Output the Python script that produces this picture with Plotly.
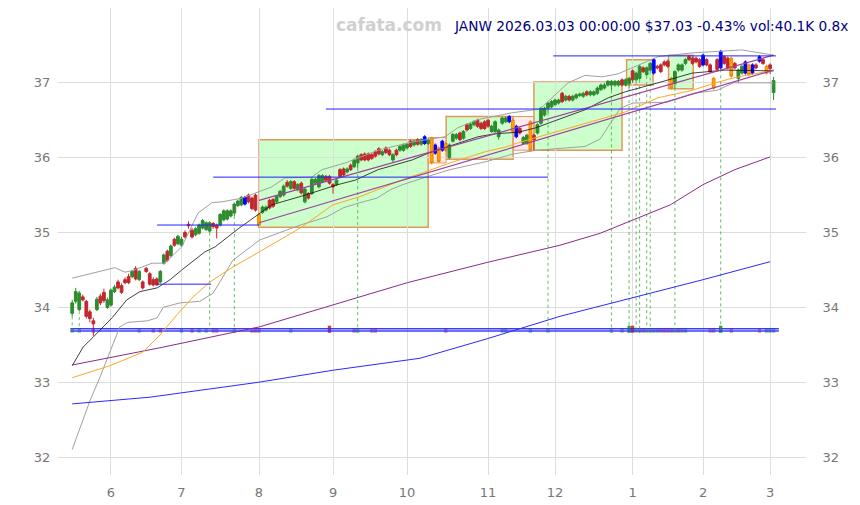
import plotly.graph_objects as go
import pandas as pd

# ---------------- data ----------------
holidays = ['2025-05-26', '2025-06-19', '2025-07-04', '2025-09-01', '2025-11-27',
            '2025-12-25', '2026-01-01', '2026-01-19', '2026-02-16']
dates = [d for d in pd.bdate_range('2025-05-15', '2026-03-03') if d.strftime('%Y-%m-%d') not in holidays]

opens = [33.92,34.08,33.97,34.14,34.08,33.94,33.82,33.97,34.15,34.20,34.00,34.03,34.21,34.34,34.29,34.37,34.41,34.41,34.52,34.37,
         34.34,34.52,34.45,34.37,34.38,34.34,34.59,34.75,34.69,34.91,34.85,34.83,35.00,35.11,35.03,34.97,34.99,35.06,35.04,35.02,
         35.12,35.10,35.10,35.17,35.18,35.22,35.26,35.36,35.37,35.38,35.50,35.46,35.50,35.24,35.27,35.30,35.43,35.44,35.41,35.48,
         35.50,35.67,35.59,35.68,35.57,35.66,35.41,35.52,35.52,35.66,35.61,35.68,35.75,35.75,35.64,35.64,35.84,35.85,35.81,35.90,
         35.88,35.93,36.04,36.05,36.05,36.04,36.08,36.12,36.04,36.13,36.10,35.97,36.10,36.10,36.10,36.13,36.22,36.17,36.24,36.18,
         36.19,36.19,36.26,36.17,36.13,36.10,36.19,36.00,36.22,36.26,36.33,36.26,36.44,36.39,36.44,36.50,36.46,36.48,36.50,36.35,
         36.35,36.28,36.46,36.48,36.48,36.50,36.42,36.39,36.19,36.19,36.48,36.30,36.33,36.46,36.57,36.66,36.68,36.71,36.73,36.86,
         36.77,36.82,36.77,36.80,36.83,36.82,36.88,36.84,36.84,36.86,36.91,36.93,36.97,36.97,36.97,36.97,37.04,36.97,36.99,37.16,
         37.04,37.06,37.20,37.11,37.17,37.13,37.22,37.24,37.28,37.29,37.06,36.99,37.17,37.17,37.26,37.35,37.33,37.33,37.31,37.24,
         37.31,37.24,37.06,37.31,37.20,37.35,37.33,37.33,37.26,37.06,37.13,37.13,37.24,37.13,37.24,37.29,37.31,37.22,37.24,36.87]
highs = [34.10,34.26,34.22,34.17,34.10,33.97,33.86,34.14,34.18,34.25,34.13,34.25,34.30,34.37,34.32,34.40,34.45,34.50,34.55,34.50,
         34.36,34.54,34.47,34.40,34.40,34.50,34.72,34.77,34.84,34.93,34.97,34.94,35.03,35.15,35.06,35.07,35.12,35.18,35.15,35.15,
         35.14,35.12,35.26,35.31,35.31,35.31,35.40,35.44,35.49,35.49,35.52,35.48,35.52,35.26,35.36,35.36,35.45,35.46,35.50,35.57,
         35.64,35.70,35.70,35.70,35.66,35.68,35.60,35.54,35.73,35.73,35.78,35.78,35.77,35.77,35.66,35.72,35.86,35.87,35.87,35.92,
         35.99,36.04,36.06,36.07,36.07,36.06,36.10,36.14,36.10,36.15,36.12,36.06,36.12,36.17,36.19,36.20,36.24,36.24,36.26,36.26,
         36.30,36.26,36.28,36.19,36.15,36.24,36.21,36.19,36.33,36.33,36.35,36.37,36.46,36.47,36.50,36.52,36.48,36.50,36.52,36.44,
         36.50,36.39,36.55,36.55,36.57,36.52,36.44,36.41,36.29,36.32,36.50,36.32,36.46,36.68,36.68,36.75,36.77,36.79,36.79,36.88,
         36.84,36.84,36.84,36.86,36.87,36.88,36.90,36.90,36.90,36.95,36.99,37.00,37.04,37.04,37.04,37.04,37.06,37.06,37.08,37.18,
         37.15,37.24,37.22,37.22,37.28,37.33,37.24,37.26,37.30,37.31,37.08,37.17,37.26,37.26,37.33,37.37,37.35,37.35,37.33,37.39,
         37.33,37.26,37.08,37.33,37.44,37.37,37.35,37.35,37.28,37.19,37.24,37.30,37.26,37.26,37.26,37.37,37.33,37.24,37.26,37.08]
lows = [33.88,34.05,33.95,34.08,33.85,33.80,33.62,33.95,34.03,34.06,33.98,34.01,34.19,34.24,34.18,34.31,34.31,34.39,34.36,34.35,
        34.24,34.46,34.29,34.28,34.29,34.32,34.57,34.61,34.67,34.81,34.83,34.81,34.92,35.05,34.92,34.95,34.97,35.04,35.02,35.00,
        35.05,34.92,35.08,35.15,35.16,35.20,35.22,35.34,35.35,35.36,35.39,35.30,35.28,35.06,35.25,35.28,35.31,35.33,35.39,35.46,
        35.48,35.60,35.57,35.57,35.55,35.51,35.39,35.44,35.50,35.64,35.59,35.66,35.68,35.64,35.52,35.62,35.73,35.75,35.79,35.82,
        35.86,35.86,35.95,35.95,35.95,35.97,36.00,36.03,36.02,36.05,36.02,35.93,36.02,36.08,36.08,36.11,36.13,36.15,36.16,36.16,
        36.17,36.17,35.91,36.04,35.93,36.08,36.08,35.98,36.20,36.24,36.22,36.24,36.35,36.37,36.42,36.40,36.37,36.37,36.40,36.33,
        36.33,36.24,36.44,36.46,36.46,36.33,36.26,36.31,36.17,36.17,36.08,36.10,36.31,36.44,36.55,36.60,36.66,36.69,36.71,36.73,
        36.75,36.75,36.75,36.78,36.81,36.80,36.82,36.82,36.82,36.84,36.89,36.91,36.95,36.90,36.95,36.95,36.95,36.95,36.93,37.00,
        37.02,37.04,37.13,37.09,37.15,37.11,37.18,37.13,37.22,37.20,36.91,36.93,37.15,37.15,37.24,37.29,37.24,37.26,37.20,37.22,
        37.22,37.13,36.91,37.16,37.18,37.24,37.18,37.07,37.18,37.00,37.11,37.11,37.09,37.11,37.18,37.27,37.24,37.11,37.12,36.77]
closes = [34.06,34.21,34.19,34.10,33.88,33.85,33.78,34.11,34.06,34.09,34.10,34.23,34.27,34.26,34.20,34.33,34.33,34.48,34.38,34.48,
          34.26,34.48,34.31,34.30,34.30,34.48,34.70,34.63,34.82,34.83,34.95,34.91,34.94,35.09,34.94,35.05,35.10,35.16,35.13,35.13,
          35.08,35.06,35.24,35.29,35.29,35.29,35.38,35.42,35.47,35.47,35.41,35.32,35.30,35.10,35.34,35.34,35.33,35.35,35.48,35.55,
          35.62,35.62,35.68,35.59,35.64,35.53,35.58,35.46,35.71,35.71,35.76,35.76,35.70,35.66,35.61,35.70,35.75,35.77,35.85,35.84,
          35.97,36.02,35.97,35.97,35.97,35.99,36.02,36.05,36.08,36.07,36.04,36.04,36.04,36.15,36.17,36.18,36.15,36.22,36.18,36.24,
          36.28,36.24,35.93,36.06,35.95,36.22,36.10,36.17,36.31,36.31,36.24,36.35,36.37,36.45,36.48,36.42,36.39,36.39,36.42,36.42,
          36.48,36.37,36.53,36.53,36.55,36.35,36.28,36.33,36.27,36.30,36.10,36.24,36.44,36.66,36.66,36.73,36.75,36.77,36.77,36.75,
          36.82,36.77,36.82,36.84,36.85,36.86,36.84,36.88,36.88,36.93,36.97,36.97,37.02,37.02,37.02,37.02,36.97,37.04,37.06,37.04,
          37.13,37.22,37.15,37.20,37.26,37.31,37.20,37.15,37.24,37.22,36.93,37.15,37.24,37.24,37.31,37.31,37.26,37.28,37.22,37.37,
          37.24,37.15,36.93,37.18,37.42,37.26,37.20,37.09,37.20,37.17,37.22,37.28,37.11,37.24,37.20,37.35,37.26,37.13,37.19,37.03]
# highlighted candles
blue_idx = [49, 100, 103, 105, 124, 126, 165, 179, 184, 191, 193, 195]
orange_idx = [53, 102, 104, 106, 125, 130, 170, 182, 187, 192, 197]

# moving averages / bands (index, value)
ma_black_x = [0, 3.1, 5.9, 11.3, 15.5, 19.2, 24.1, 27.8, 31.1, 34.3, 37.6, 40.6, 47.1, 56.6, 66.1, 75.4, 80.3, 86.8, 96.5, 101,
              105.8, 110.6, 115.2, 120, 126.6, 131.6, 136.2, 145.5, 152.1, 156.9, 166.2, 175.9, 185.2, 194.6, 199]
ma_black_y = [33.22, 33.47, 33.60, 33.86, 34.10, 34.21, 34.26, 34.37, 34.50, 34.62, 34.74, 34.81, 35.05, 35.37, 35.50, 35.64, 35.70, 35.84, 35.97, 36.06,
              36.13, 36.21, 36.28, 36.32, 36.34, 36.40, 36.48, 36.64, 36.80, 36.88, 37.00, 37.13, 37.17, 37.17, 37.16]
ma_orange_x = [0, 10.7, 20, 24.9, 29.7, 34.3, 39.1, 45.6, 49, 53, 59.9, 64.7, 74, 81.7, 95.1, 99.6, 107.2, 117.2, 122.8, 126.6,
               141.3, 156.9, 166.2, 175.9, 183.2, 188, 194.6, 199]
ma_orange_y = [33.06, 33.22, 33.40, 33.63, 33.90, 34.14, 34.34, 34.54, 34.63, 34.74, 34.93, 35.06, 35.37, 35.48, 35.73, 35.80, 35.93, 36.08, 36.14, 36.20,
               36.40, 36.61, 36.80, 36.90, 37.01, 37.07, 37.13, 37.17]
ma_purple_x = [0, 24.9, 53.2, 74, 95.1, 117.7, 138.4, 149.8, 159.1, 169.7, 179, 188, 198]
ma_purple_y = [33.23, 33.46, 33.74, 34.03, 34.33, 34.60, 34.83, 34.99, 35.17, 35.37, 35.64, 35.84, 36.01]
ma_blue_x = [0, 22.1, 53, 74, 98.7, 117.7, 138.4, 159.1, 179, 198]
ma_blue_y = [32.71, 32.80, 33.00, 33.16, 33.32, 33.58, 33.88, 34.13, 34.37, 34.61]
bb_up_x = [0, 3.7, 12.1, 15, 16.9, 22.7, 26.3, 31.1, 35.7, 39.7, 42.5, 48.2, 56.6, 60.4, 68, 70.9, 77.5, 86.8, 96.5, 105.8,
           109.4, 115.2, 120, 124.8, 132.7, 140.7, 145.5, 150.4, 154.9, 158.8, 166.2, 175.9, 190, 199]
bb_up_y = [34.39, 34.43, 34.53, 34.47, 34.49, 34.59, 34.59, 34.81, 35.26, 35.40, 35.41, 35.46, 35.61, 35.73, 35.74, 35.84, 35.93, 36.10, 36.21, 36.28,
           36.40, 36.51, 36.55, 36.60, 36.65, 37.00, 37.10, 37.08, 37.12, 37.20, 37.35, 37.40, 37.44, 37.37]
bb_lo_x = [0, 2.3, 5.1, 7.9, 10.2, 13.5, 15.8, 21.3, 24.1, 25.8, 30.6, 36.2, 40, 42.8, 45.6, 53.2, 64.7, 72.3, 76.9, 81.7,
           86.5, 90.2, 93.8, 99.6, 107.2, 117.7, 125.1, 131.9, 138.4, 145.5, 149.8, 152.7, 155.5, 159.1, 168.7, 176.2, 183, 187.6, 199]
bb_lo_y = [32.10, 32.40, 32.76, 33.07, 33.34, 33.74, 33.80, 33.82, 33.86, 34.00, 34.06, 34.08, 34.19, 34.41, 34.63, 34.90, 35.10, 35.21, 35.33, 35.40,
           35.46, 35.57, 35.64, 35.73, 35.84, 35.95, 36.05, 36.10, 36.12, 36.15, 36.25, 36.45, 36.66, 36.73, 36.74, 36.86, 36.90, 37.00, 37.00]

# regression channel
chan_x = [53, 199]
chan_upper = [35.43, 37.37]
chan_lower = [35.13, 37.17]

# horizontal levels
level_x0 = [24.1, 24.1, 40, 72, 136.5]
level_x1 = [39.4, 53, 135, 199.7, 199.7]
level_y = [34.31, 35.10, 35.74, 36.65, 37.36]

# consolidation boxes
box_x0 = [53, 106.1, 131, 157.3, 169.2]
box_x1 = [101, 125.1, 156, 164.8, 176.2]
box_y0 = [35.07, 35.98, 36.10, 36.97, 36.92]
box_y1 = [36.24, 36.55, 37.01, 37.31, 37.37]
pink_x0 = [101, 125.1]
pink_x1 = [106.1, 131]
pink_y0 = [35.93, 36.10]
pink_y1 = [36.27, 36.55]

# high-volume signal days
signal_idx = [0, 2, 39, 46, 81, 135, 153, 158, 160, 161, 163, 164, 171, 184]

# volume marks
vol_idx = [0, 2, 6, 19, 23, 25, 31, 34, 36, 38, 40, 41, 46, 51, 52, 53, 62, 73, 80, 81, 85, 86, 106, 122, 123, 130, 135,
           153, 156, 158, 159, 160, 161, 162, 163, 164, 165, 166, 167, 168, 169, 170, 171, 172, 173, 174, 181, 182, 184, 187, 195, 197, 198, 199]
vol_up = [1, 1, 0, 1, 0, 0, 1, 0, 1, 1, 0, 0, 1, 0, 0, 0, 1, 0, 0, 1, 0, 0, 0, 1, 1, 1, 1,
          1, 1, 1, 0, 1, 1, 0, 1, 1, 1, 1, 0, 0, 0, 0, 1, 0, 1, 1, 0, 0, 1, 0, 0, 1, 1, 1]
vol_big = [0, 0, 0, 0, 0, 0, 0, 0, 0, 0, 0, 0, 0, 0, 0, 0, 0, 1, 0, 0, 0, 0, 0, 0, 0, 0, 0,
           0, 0, 1, 1, 0, 0, 0, 0, 0, 0, 0, 0, 0, 0, 0, 0, 0, 0, 0, 0, 0, 1, 0, 0, 0, 0, 0]

vol_base = 33.66
vol_line_y = [33.715, 33.685]

title_text = "JANW 2026.03.03 00:00:00 $37.03 -0.43% vol:40.1K 0.8x"
watermark = "cafata.com"

# ---------------- figure ----------------
n = len(opens)
xs = list(range(n))
fig = go.Figure()

special = set(blue_idx) | set(orange_idx)

def pick(idx):
    return (idx, [opens[i] for i in idx], [highs[i] for i in idx], [lows[i] for i in idx], [closes[i] for i in idx])

shapes = []
for a, b, c, d in zip(box_x0, box_x1, box_y0, box_y1):
    shapes.append(dict(type='rect', xref='x', yref='y', x0=a, x1=b, y0=c, y1=d, layer='below',
                       fillcolor='rgba(170,255,170,0.6)', line=dict(color='#e09a5a', width=1.5)))
for a, b, c, d in zip(pink_x0, pink_x1, pink_y0, pink_y1):
    shapes.append(dict(type='rect', xref='x', yref='y', x0=a, x1=b, y0=c, y1=d, layer='below',
                       fillcolor='rgba(255,215,215,0.5)', line=dict(color='#e09a5a', width=1)))

for vy in vol_line_y:
    fig.add_trace(go.Scatter(x=[-0.5, n + 0.5], y=[vy, vy], mode='lines',
                             line=dict(color='rgba(40,40,255,0.9)', width=1.5), hoverinfo='skip', showlegend=False))

vcol, vh = [], []
for u, bg in zip(vol_up, vol_big):
    if u:
        vcol.append('rgba(30,140,30,0.85)' if bg else 'rgba(60,150,60,0.55)')
    else:
        vcol.append('rgba(200,30,30,0.85)' if bg else 'rgba(200,60,60,0.55)')
    vh.append(0.095 if bg else 0.065)
fig.add_trace(go.Bar(x=vol_idx, y=vh, base=[vol_base] * len(vol_idx), marker=dict(color=vcol, line=dict(width=0)),
                     width=0.95, hoverinfo='skip', showlegend=False))

sx, sy = [], []
for i in signal_idx:
    sx += [i, i, None]
    sy += [lows[i], vol_base, None]
fig.add_trace(go.Scatter(x=sx, y=sy, mode='lines', line=dict(color='rgba(50,170,50,0.75)', width=1, dash='dot'),
                         hoverinfo='skip', showlegend=False))

fig.add_trace(go.Scatter(x=bb_up_x, y=bb_up_y, mode='lines', line=dict(color='#a0a0a0', width=1), showlegend=False))
fig.add_trace(go.Scatter(x=bb_lo_x, y=bb_lo_y, mode='lines', line=dict(color='#a0a0a0', width=1), showlegend=False))
fig.add_trace(go.Scatter(x=ma_blue_x, y=ma_blue_y, mode='lines', line=dict(color='#2a2aff', width=1), showlegend=False))
fig.add_trace(go.Scatter(x=ma_purple_x, y=ma_purple_y, mode='lines', line=dict(color='#8b2a8b', width=1), showlegend=False))
fig.add_trace(go.Scatter(x=ma_orange_x, y=ma_orange_y, mode='lines', line=dict(color='#ffa726', width=1), showlegend=False))
fig.add_trace(go.Scatter(x=ma_black_x, y=ma_black_y, mode='lines', line=dict(color='#111111', width=0.8), showlegend=False))

fig.add_trace(go.Scatter(x=chan_x, y=chan_upper, mode='lines', line=dict(color='#a040a0', width=1.2), showlegend=False))
fig.add_trace(go.Scatter(x=chan_x, y=chan_lower, mode='lines', line=dict(color='#a040a0', width=1.2), showlegend=False))

lx, ly = [], []
for a, b, v in zip(level_x0, level_x1, level_y):
    lx += [a, b, None]
    ly += [v, v, None]
fig.add_trace(go.Scatter(x=lx, y=ly, mode='lines', line=dict(color='#2020ff', width=1), hoverinfo='skip', showlegend=False))

i_, o_, h_, l_, c_ = pick([i for i in xs if i not in special])
fig.add_trace(go.Candlestick(x=i_, open=o_, high=h_, low=l_, close=c_, whiskerwidth=0,
                             increasing=dict(line=dict(color='#2e8b2e', width=1), fillcolor='#2e8b2e'),
                             decreasing=dict(line=dict(color='#c0282d', width=1), fillcolor='#c0282d'),
                             showlegend=False))
i_, o_, h_, l_, c_ = pick(blue_idx)
fig.add_trace(go.Candlestick(x=i_, open=o_, high=h_, low=l_, close=c_, whiskerwidth=0,
                             increasing=dict(line=dict(color='#0000ff', width=1), fillcolor='#0000ff'),
                             decreasing=dict(line=dict(color='#0000ff', width=1), fillcolor='#0000ff'),
                             showlegend=False))
i_, o_, h_, l_, c_ = pick(orange_idx)
fig.add_trace(go.Candlestick(x=i_, open=o_, high=h_, low=l_, close=c_, whiskerwidth=0,
                             increasing=dict(line=dict(color='#f08000', width=1), fillcolor='#ffa500'),
                             decreasing=dict(line=dict(color='#f08000', width=1), fillcolor='#ffa500'),
                             showlegend=False))

fig.add_trace(go.Scatter(x=[0], y=[35], yaxis='y2', mode='markers', marker=dict(opacity=0), hoverinfo='skip', showlegend=False))

tickvals, ticktext = [], []
prev_m = None
for i, d in enumerate(dates[:n]):
    if prev_m is not None and d.month != prev_m:
        tickvals.append(i)
        ticktext.append(str(d.month))
    prev_m = d.month

yr = [31.76, 38.0]
tickfont = dict(family='DejaVu Sans', size=13, color='#777777')
fig.update_layout(
    width=860, height=505,
    margin=dict(l=58, r=54, t=8, b=30),
    paper_bgcolor='white', plot_bgcolor='white',
    shapes=shapes,
    barmode='overlay',
    boxmode='overlay', boxgap=0.12, boxgroupgap=0.12,
    xaxis=dict(range=[-4.03, 208.2], tickvals=tickvals, ticktext=ticktext, showgrid=True, automargin=False,
               gridcolor='#dddddd', gridwidth=1, zeroline=False, showline=False, tickfont=tickfont,
               rangeslider=dict(visible=False), ticks='outside', ticklen=5, tickcolor='rgba(0,0,0,0)'),
    yaxis=dict(range=yr, tickvals=[32, 33, 34, 35, 36, 37], showgrid=True, gridcolor='#dddddd', gridwidth=1,
               automargin=False, zeroline=False, showline=False, tickfont=tickfont, ticks='outside', ticklen=4,
               tickcolor='rgba(0,0,0,0)'),
    yaxis2=dict(range=yr, tickvals=[32, 33, 34, 35, 36, 37], overlaying='y', side='right', showgrid=False,
                automargin=False, zeroline=False, showline=False, tickfont=tickfont, ticks='outside', ticklen=13,
                tickcolor='rgba(0,0,0,0)'),
    annotations=[
        dict(text=title_text, xref='paper', yref='paper', x=(850 - 58) / 748, y=(475 - 26) / 467,
             xanchor='right', yanchor='middle', showarrow=False,
             font=dict(family='DejaVu Sans', size=13.7, color='#000080')),
        dict(text='<b>' + watermark + '</b>', xref='paper', yref='paper', x=(389 - 58) / 748, y=(475 - 25) / 467,
             xanchor='center', yanchor='middle', showarrow=False,
             font=dict(family='DejaVu Sans', size=17, color='#d0d0d0')),
    ],
    hovermode=False,
)
fig.write_html("out.html", config={'displayModeBar': False},
               post_script="document.body.style.margin='0';")
